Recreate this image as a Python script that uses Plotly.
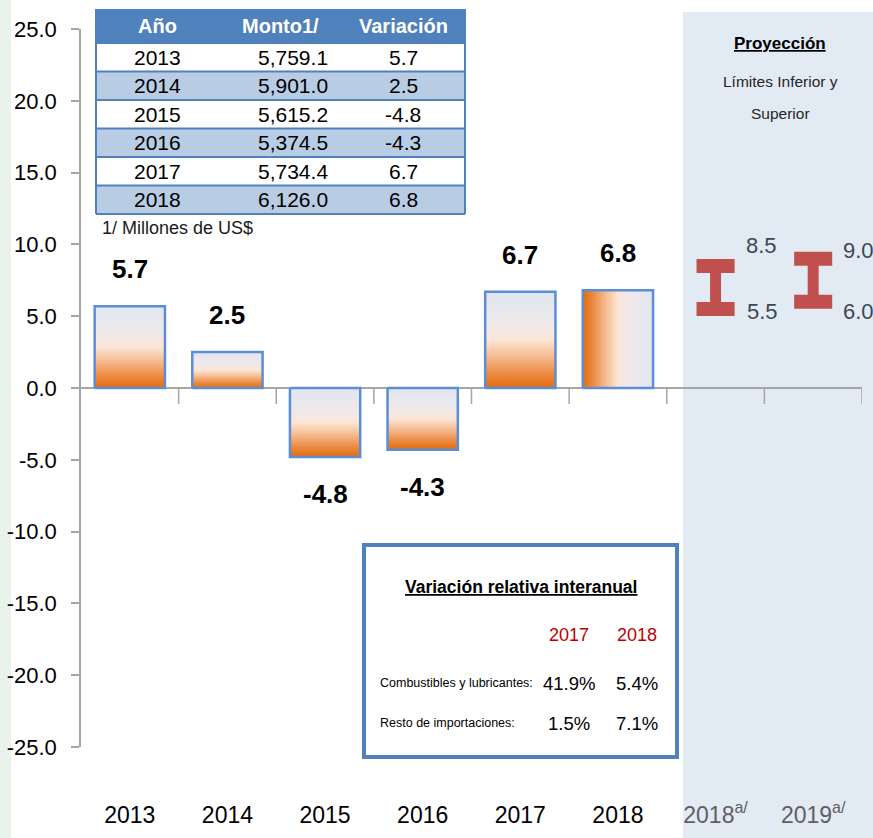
import plotly.graph_objects as go

# ---------------- data ----------------
years = ['2013', '2014', '2015', '2016', '2017', '2018']
variacion = [5.7, 2.5, -4.8, -4.3, 6.7, 6.8]
monto = ['5,759.1', '5,901.0', '5,615.2', '5,374.5', '5,734.4', '6,126.0']
var_text = ['5.7', '2.5', '-4.8', '-4.3', '6.7', '6.8']
gradient_dir = ['vertical', 'vertical', 'vertical', 'vertical', 'vertical', 'horizontal']

proj_years = ['2018', '2019']
proj_low = [5.5, 6.0]
proj_high = [8.5, 9.0]
proj_low_text = ['5.5', '6.0']
proj_high_text = ['8.5', '9.0']

table_header = ['Año', 'Monto1/', 'Variación']
table_note = '1/ Millones de US$'

box_title = 'Variación relativa interanual'
box_years = ['2017', '2018']
box_rows = ['Combustibles y lubricantes:', 'Resto de importaciones:']
box_values = [['41.9%', '5.4%'], ['1.5%', '7.1%']]

y_ticks = [25, 20, 15, 10, 5, 0, -5, -10, -15, -20, -25]
y_tick_text = ['25.0', '20.0', '15.0', '10.0', '5.0', '0.0', '-5.0', '-10.0', '-15.0', '-20.0', '-25.0']

# ---------------- layout helpers ----------------
W, H = 873, 838
L, R, T, B = 81, 862, 29, 747


def px(xp):
    return (xp - L) / (R - L)


def py(yp):
    return (B - yp) / (B - T)


NARROW = 'Liberation Sans, Arial, sans-serif'
ARIAL = 'Liberation Sans, Arial, sans-serif'
ORANGE_SCALE = [[0.0, '#e36c09'], [0.15, '#ec8b45'], [0.35, '#f6c29a'],
                [0.5, '#fce6d6'], [0.62, '#f3e8e6'], [0.8, '#e8e8ee'], [1.0, '#e2e6ef']]
BAR_LINE = '#5b8ed6'
AXIS_GRAY = '#a6a6a6'
RED = '#c0504d'

fig = go.Figure()

# gradient bars (polygons on the axes built from values)
hw = 0.36
for i, v in enumerate(variacion):
    fig.add_trace(go.Scatter(
        x=[i - hw, i + hw, i + hw, i - hw, i - hw],
        y=[0, 0, v, v, 0],
        mode='lines', fill='toself',
        line=dict(color=BAR_LINE, width=2.5),
        fillgradient=dict(type=gradient_dir[i], colorscale=ORANGE_SCALE),
        hoverinfo='skip', showlegend=False))

# projection "I" markers
for j in range(len(proj_years)):
    xc = len(years) + j
    fig.add_trace(go.Scatter(
        x=[xc, xc], y=[proj_low[j], proj_high[j]], mode='lines',
        line=dict(color=RED, width=11), hoverinfo='skip', showlegend=False))
    cw = 0.195
    fig.add_trace(go.Scatter(
        x=[xc - cw, xc + cw, None, xc - cw, xc + cw],
        y=[proj_high[j], proj_high[j], None, proj_low[j], proj_low[j]],
        mode='lines', line=dict(color=RED, width=14),
        hoverinfo='skip', showlegend=False))

shapes = []
annotations = []


def paper_text(xp, yp, text, size, color='black', family=ARIAL, xanchor='center'):
    annotations.append(dict(x=px(xp), y=py(yp), xref='paper', yref='paper', text=text,
                            showarrow=False, xanchor=xanchor, yanchor='middle',
                            font=dict(family=family, size=size, color=color)))


# left green strip and projection shading
shapes.append(dict(type='rect', xref='paper', yref='paper', x0=px(0), x1=px(11),
                   y0=py(H), y1=py(0), fillcolor='#e9f3eb', line=dict(width=0), layer='below'))
shapes.append(dict(type='rect', xref='paper', yref='paper', x0=px(683), x1=px(W + 2),
                   y0=py(H + 2), y1=py(12), fillcolor='#e2eaf4', line=dict(width=0), layer='below'))

# category boundary ticks below the zero line
n_cat = len(years) + len(proj_years)
for k in range(n_cat):
    shapes.append(dict(type='line', xref='x', yref='y', x0=k + 0.5, x1=k + 0.5,
                       y0=0, y1=-1.11, line=dict(color=AXIS_GRAY, width=1.5)))

# data labels
for i, v in enumerate(variacion):
    annotations.append(dict(x=i, y=v, xref='x', yref='y', text='<b>%s</b>' % var_text[i],
                            showarrow=False, yshift=37 if v >= 0 else -37,
                            xanchor='center', yanchor='middle',
                            font=dict(family=NARROW, size=26, color='black')))

# projection labels
hi_shift = [(28, 20), (28, 8)]
lo_shift = [(29, -2), (28, -10)]
for j in range(len(proj_years)):
    xc = len(years) + j
    annotations.append(dict(x=xc, y=proj_high[j], xref='x', yref='y', text=proj_high_text[j],
                            showarrow=False, xanchor='left', yanchor='middle',
                            xshift=hi_shift[j][0], yshift=hi_shift[j][1],
                            font=dict(family=NARROW, size=22, color='#3e4852')))
    annotations.append(dict(x=xc, y=proj_low[j], xref='x', yref='y', text=proj_low_text[j],
                            showarrow=False, xanchor='left', yanchor='middle',
                            xshift=lo_shift[j][0], yshift=lo_shift[j][1],
                            font=dict(family=NARROW, size=22, color='#3e4852')))

# projection title
paper_text(780, 43, '<b><u>Proyección</u></b>', 17, family=NARROW)
paper_text(780, 81, 'Límites Inferior y', 15.5, color='#262626', family=NARROW)
paper_text(780, 113, 'Superior', 15.5, color='#262626', family=NARROW)

# ---------------- table ----------------
tx0, tx1 = 96, 465
t_top, head_h, row_h = 9, 34, 28.5
TBLUE = '#4f81bd'
shapes.append(dict(type='rect', xref='paper', yref='paper', x0=px(tx0), x1=px(tx1),
                   y0=py(t_top + head_h), y1=py(t_top), fillcolor=TBLUE,
                   line=dict(width=0)))
col_c = [157, 293, 403]
head_c = [157, 280, 403]
for h, c in zip(table_header, head_c):
    paper_text(c, t_top + head_h / 2, '<b>%s</b>' % h, 20, color='white')
for i in range(len(years)):
    y0 = t_top + head_h + i * row_h
    shapes.append(dict(type='rect', xref='paper', yref='paper', x0=px(tx0), x1=px(tx1),
                       y0=py(y0 + row_h), y1=py(y0),
                       fillcolor='white' if i % 2 == 0 else '#b8cce4',
                       line=dict(width=0)))
    for c, txt in zip(col_c, [years[i], monto[i], var_text[i]]):
        paper_text(c, y0 + row_h / 2, txt, 21)
for i in range(len(years) + 1):
    yl = t_top + head_h + i * row_h
    shapes.append(dict(type='line', xref='paper', yref='paper', x0=px(tx0), x1=px(tx1),
                       y0=py(yl), y1=py(yl), line=dict(color=TBLUE, width=2)))
t_bot = t_top + head_h + len(years) * row_h
for xv in (tx0, tx1):
    shapes.append(dict(type='line', xref='paper', yref='paper', x0=px(xv), x1=px(xv),
                       y0=py(t_bot), y1=py(t_top), line=dict(color=TBLUE, width=2)))
paper_text(100, 228, table_note, 18, color='#1a1a1a', xanchor='left')

# ---------------- inset box ----------------
shapes.append(dict(type='rect', xref='paper', yref='paper', x0=px(364), x1=px(677),
                   y0=py(757), y1=py(545), fillcolor='white',
                   line=dict(color='#4f81bd', width=4)))
paper_text(521, 587, '<b><u>%s</u></b>' % box_title, 17.5, family=NARROW)
val_c = [569, 637]
for c, yr in zip(val_c, box_years):
    paper_text(c, 635, yr, 18, color='#c00000', family=NARROW)
row_y = [683, 723]
for r, label in enumerate(box_rows):
    paper_text(378, row_y[r], label, 12.5, family=NARROW, xanchor='left')
    for c, val in zip(val_c, box_values[r]):
        paper_text(c, row_y[r], val, 18.5, family=NARROW)

# ---------------- axes ----------------
tick_text = years + ['<span style="color:#606060">%s<sup>a/</sup></span>' % y for y in proj_years]

fig.update_layout(
    width=W, height=H,
    margin=dict(l=L, r=W - R, t=T, b=H - B, autoexpand=False),
    paper_bgcolor='white', plot_bgcolor='rgba(0,0,0,0)',
    showlegend=False,
    shapes=shapes, annotations=annotations,
    xaxis=dict(range=[-0.5, n_cat - 0.5], tickvals=list(range(n_cat)), ticktext=tick_text,
               showgrid=False, zeroline=False, showline=False, ticks='',
               ticklabelstandoff=52, automargin=False,
               tickfont=dict(family=NARROW, size=23, color='black')),
    yaxis=dict(range=[-25, 25], tickvals=y_ticks, ticktext=y_tick_text,
               showgrid=False, zeroline=True, zerolinecolor=AXIS_GRAY, zerolinewidth=2,
               showline=True, linecolor=AXIS_GRAY, linewidth=1.5,
               ticks='outside', ticklen=8, tickcolor=AXIS_GRAY, tickwidth=1.5,
               ticklabelstandoff=10, automargin=False,
               tickfont=dict(family=NARROW, size=22, color='black')),
)

fig.write_html('out.html', config={'displayModeBar': False},
               post_script="document.body.style.margin='0';document.body.style.padding='0';")
